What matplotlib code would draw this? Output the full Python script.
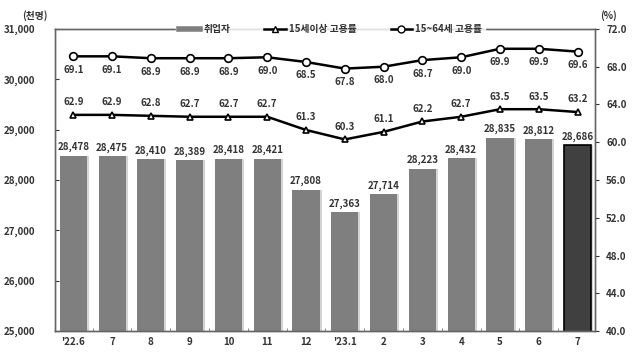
import matplotlib
matplotlib.use("Agg")
import matplotlib.pyplot as plt
from matplotlib.lines import Line2D
from matplotlib.ticker import FuncFormatter, MultipleLocator

plt.rcParams['font.family'] = ['Noto Sans CJK KR', 'DejaVu Sans']

# data
months = ["'22.6", "7", "8", "9", "10", "11", "12", "'23.1", "2", "3", "4", "5", "6", "7"]
employed = [28478, 28475, 28410, 28389, 28418, 28421, 27808, 27363, 27714, 28223, 28432, 28835, 28812, 28686]
rate_15plus = [62.9, 62.9, 62.8, 62.7, 62.7, 62.7, 61.3, 60.3, 61.1, 62.2, 62.7, 63.5, 63.5, 63.2]
rate_15_64 = [69.1, 69.1, 68.9, 68.9, 68.9, 69.0, 68.5, 67.8, 68.0, 68.7, 69.0, 69.9, 69.9, 69.6]

TXT = "#333333"
FS = 7

fig = plt.figure(figsize=(6.33, 3.53), dpi=100)
ax = fig.add_axes([0.087, 0.062, 0.853, 0.856])
x = list(range(len(months)))

# bars, with a soft shadow at the right edge like the original
colors = ["#7f7f7f"] * (len(x) - 1) + ["#404040"]
ax.bar([i + 0.05 for i in x], employed, width=0.7, color="#d4d4d4", zorder=1)
ax.bar(x, employed, width=0.7, color=colors, zorder=2)
ax.bar(x[-1], employed[-1], width=0.7, color="#404040", edgecolor="black", linewidth=1.2, zorder=2)
for i, v in zip(x, employed):
    ax.text(i, v + 70, f"{v:,}", ha="center", va="bottom", fontsize=FS, color=TXT, fontweight="bold")

ax.set_ylim(25000, 31000)
ax.set_xlim(-0.47, 13.45)
ax.yaxis.set_major_locator(MultipleLocator(1000))
ax.yaxis.set_major_formatter(FuncFormatter(lambda v, p: f"{int(v):,}"))
ax.set_xticks(x)
ax.set_xticklabels(months)
ax.set_xticks([i + 0.5 for i in x[:-1]], minor=True)
ax.tick_params(axis="x", which="major", length=0, labelsize=FS, colors=TXT, pad=4)
ax.tick_params(axis="x", which="minor", length=2, direction="in", color="#777777")
ax.tick_params(axis="y", length=3, direction="in", labelsize=FS, colors=TXT, pad=14)
for lab in ax.get_xticklabels() + ax.get_yticklabels():
    lab.set_fontweight("bold")

# rates on the right axis
ax2 = ax.twinx()
ax2.set_ylim(40, 72)
ax2.yaxis.set_major_locator(MultipleLocator(4))
ax2.yaxis.set_major_formatter(FuncFormatter(lambda v, p: f"{v:.1f}"))
ax2.tick_params(axis="y", length=3, direction="out", labelsize=FS, colors=TXT, pad=5)
for lab in ax2.get_yticklabels():
    lab.set_fontweight("bold")

ax2.plot(x, rate_15plus, color="black", linewidth=1.8, marker="^", markersize=5,
         markerfacecolor="white", markeredgecolor="black", markeredgewidth=1.2, zorder=3)
ax2.plot(x, rate_15_64, color="black", linewidth=1.8, marker="o", markersize=5.5,
         markerfacecolor="white", markeredgecolor="black", markeredgewidth=1.2, zorder=3)
for i, v in zip(x, rate_15plus):
    ax2.text(i, v + 0.8, f"{v:.1f}", ha="center", va="bottom", fontsize=FS, color=TXT, fontweight="bold")
for i, v in zip(x, rate_15_64):
    ax2.text(i, v - 0.9, f"{v:.1f}", ha="center", va="top", fontsize=FS, color=TXT, fontweight="bold")

for a in (ax, ax2):
    for s in a.spines.values():
        s.set_color("#666666")
        s.set_linewidth(1.0)

fig.text(0.035, 0.955, "(천명)", fontsize=FS, color=TXT, fontweight="bold", ha="left", va="center")
fig.text(0.975, 0.955, "(%)", fontsize=FS, color=TXT, fontweight="bold", ha="right", va="center")

handles = [
    Line2D([], [], color="#7f7f7f", linewidth=4),
    Line2D([], [], color="black", linewidth=1.8, marker="^", markersize=5,
           markerfacecolor="white", markeredgecolor="black"),
    Line2D([], [], color="black", linewidth=1.8, marker="o", markersize=5,
           markerfacecolor="white", markeredgecolor="black"),
]
labels = ["취업자", "15세이상 고용률", "15~64세 고용률"]
leg = ax2.legend(handles, labels, loc="center", bbox_to_anchor=(0.51, 1.0), ncol=3,
                 frameon=True, fontsize=FS, handlelength=2.2, columnspacing=3.5,
                 handletextpad=0.3, borderpad=0.3, borderaxespad=0, fancybox=False)
leg.get_frame().set_facecolor("white")
leg.get_frame().set_edgecolor("white")
for t in leg.get_texts():
    t.set_color(TXT)
    t.set_fontweight("bold")
leg.set_zorder(10)

fig.savefig("out.png", dpi=100)
